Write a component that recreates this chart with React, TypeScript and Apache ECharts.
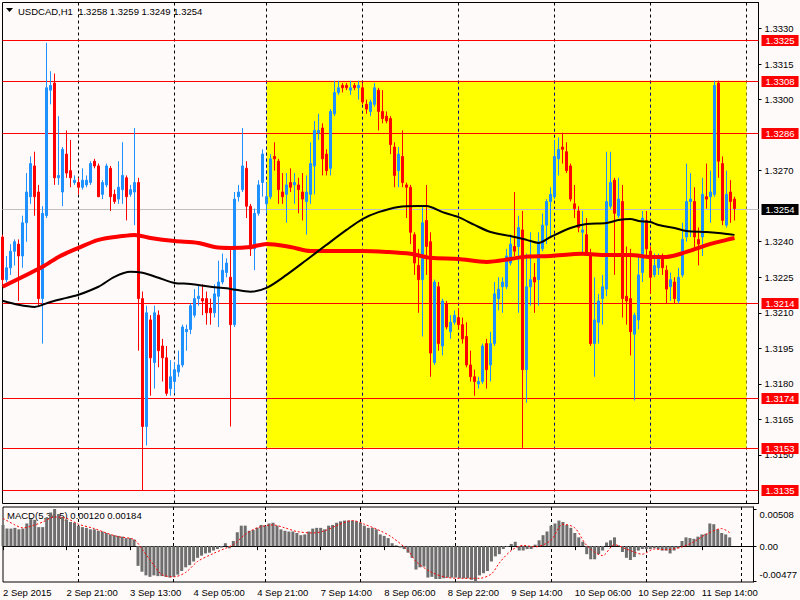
import React, { useEffect, useRef } from "react";
import * as echarts from "echarts";

// ---------- data ----------
const symbolName = "USDCAD,H1";
const year = 2015;
// trading sessions on the time axis: [day, first hour, last hour]
const sessions: [string, number, number][] = [
  ["2 Sep", 5, 23], ["3 Sep", 0, 23], ["4 Sep", 0, 22], ["7 Sep", 0, 23], ["8 Sep", 0, 23],
  ["9 Sep", 0, 23], ["10 Sep", 0, 23], ["11 Sep", 0, 23], ["12 Sep", 0, 3],
];

const opens = [
  1.3242,1.3224,1.3229,1.3236,1.3239,1.3234,1.3248,1.3259,1.3272,1.3261,
  1.3216,1.3251,1.3304,1.3307,1.3267,1.3261,1.3277,1.3270,1.3265,1.3265,
  1.3263,1.3264,1.3265,1.3274,1.3272,1.3260,1.3264,1.3271,1.3260,1.3258,
  1.3262,1.3267,1.3260,1.3261,1.3265,1.3216,1.3162,1.3207,1.3189,1.3209,
  1.3196,1.3191,1.3178,1.3181,1.3185,1.3188,1.3202,1.3203,1.3209,1.3216,
  1.3216,1.3216,1.3212,1.3210,1.3217,1.3223,1.3227,1.3225,1.3205,1.3259,
  1.3262,1.3271,1.3255,1.3237,1.3252,1.3265,1.3256,1.3259,1.3276,1.3274,
  1.3261,1.3260,1.3265,1.3264,1.3264,1.3261,1.3257,1.3260,1.3272,1.3286,
  1.3288,1.3277,1.3271,1.3294,1.3303,1.3306,1.3306,1.3304,1.3306,1.3305,
  1.3305,1.3298,1.3295,1.3298,1.3304,1.3295,1.3293,1.3292,1.3280,1.3270,
  1.3276,1.3264,1.3263,1.3243,1.3230,1.3224,1.3249,1.3240,1.3189,1.3221,
  1.3196,1.3214,1.3202,1.3206,1.3208,1.3205,1.3200,1.3188,1.3183,1.3180,
  1.3181,1.3197,1.3188,1.3197,1.3216,1.3221,1.3221,1.3231,1.3238,1.3238,
  1.3245,1.3186,1.3221,1.3225,1.3224,1.3237,1.3247,1.3257,1.3259,1.3275,
  1.3280,1.3278,1.3272,1.3256,1.3253,1.3244,1.3243,1.3235,1.3197,1.3206,
  1.3216,1.3220,1.3255,1.3266,1.3251,1.3257,1.3217,1.3216,1.3201,1.3207,
  1.3227,1.3249,1.3236,1.3226,1.3229,1.3234,1.3228,1.3221,1.3223,1.3215,
  1.3226,1.3242,1.3257,1.3257,1.3241,1.3242,1.3259,1.3259,1.3260,1.3307,
  1.3273,1.3247,1.3261,1.3258,
];
const closes = [
  1.3224,1.3229,1.3236,1.3240,1.3234,1.3248,1.3261,1.3273,1.3259,1.3216,
  1.3252,1.3305,1.3306,1.3267,1.3268,1.3279,1.3269,1.3267,1.3266,1.3263,
  1.3266,1.3266,1.3273,1.3272,1.3259,1.3265,1.3272,1.3259,1.3257,1.3263,
  1.3268,1.3259,1.3262,1.3265,1.3216,1.3162,1.3210,1.3191,1.3210,1.3194,
  1.3191,1.3176,1.3183,1.3186,1.3188,1.3204,1.3203,1.3213,1.3216,1.3217,
  1.3215,1.3210,1.3210,1.3218,1.3223,1.3228,1.3231,1.3205,1.3258,1.3261,
  1.3272,1.3255,1.3237,1.3252,1.3264,1.3277,1.3259,1.3275,1.3275,1.3262,
  1.3259,1.3264,1.3263,1.3265,1.3262,1.3258,1.3261,1.3273,1.3287,1.3287,
  1.3275,1.3270,1.3295,1.3303,1.3305,1.3305,1.3305,1.3305,1.3305,1.3306,
  1.3299,1.3296,1.3299,1.3305,1.3295,1.3292,1.3291,1.3281,1.3268,1.3277,
  1.3265,1.3263,1.3244,1.3231,1.3224,1.3248,1.3238,1.3193,1.3223,1.3197,
  1.3215,1.3204,1.3206,1.3209,1.3205,1.3199,1.3188,1.3183,1.3181,1.3181,
  1.3196,1.3186,1.3197,1.3218,1.3220,1.3223,1.3234,1.3239,1.3236,1.3246,
  1.3186,1.3221,1.3224,1.3223,1.3240,1.3247,1.3257,1.3260,1.3276,1.3279,
  1.3279,1.3270,1.3258,1.3254,1.3246,1.3245,1.3235,1.3197,1.3207,1.3215,
  1.3221,1.3257,1.3265,1.3252,1.3258,1.3216,1.3215,1.3202,1.3209,1.3226,
  1.3250,1.3237,1.3225,1.3230,1.3234,1.3229,1.3220,1.3224,1.3216,1.3225,
  1.3241,1.3257,1.3258,1.3242,1.3239,1.3260,1.3258,1.3261,1.3306,1.3274,
  1.3249,1.3260,1.3257,1.3254,
];
const lows = [
  1.3222,1.3223,1.3226,1.3230,1.3215,1.3229,1.3240,1.3256,1.3251,1.3213,
  1.3197,1.3250,1.3298,1.3264,1.3264,1.3255,1.3267,1.3263,1.3264,1.3260,
  1.3262,1.3263,1.3264,1.3271,1.3259,1.3258,1.3263,1.3253,1.3256,1.3256,
  1.3256,1.3249,1.3259,1.3247,1.3194,1.3135,1.3154,1.3175,1.3178,1.3187,
  1.3181,1.3175,1.3175,1.3176,1.3183,1.3187,1.3194,1.3201,1.3208,1.3213,
  1.3209,1.3205,1.3205,1.3208,1.3204,1.3222,1.3225,1.3162,1.3204,1.3257,
  1.3261,1.3250,1.3234,1.3228,1.3251,1.3259,1.3252,1.3258,1.3270,1.3256,
  1.3256,1.3248,1.3261,1.3256,1.3252,1.3249,1.3243,1.3256,1.3260,1.3283,
  1.3268,1.3268,1.3268,1.3293,1.3302,1.3303,1.3304,1.3302,1.3304,1.3300,
  1.3298,1.3294,1.3293,1.3297,1.3287,1.3290,1.3290,1.3277,1.3263,1.3263,
  1.3263,1.3250,1.3239,1.3226,1.3210,1.3200,1.3226,1.3183,1.3188,1.3194,
  1.3192,1.3203,1.3199,1.3205,1.3203,1.3197,1.3187,1.3181,1.3175,1.3178,
  1.3180,1.3178,1.3181,1.3196,1.3211,1.3210,1.3220,1.3230,1.3234,1.3210,
  1.3153,1.3172,1.3213,1.3210,1.3213,1.3236,1.3239,1.3242,1.3258,1.3268,
  1.3273,1.3269,1.3257,1.3250,1.3244,1.3235,1.3234,1.3196,1.3183,1.3197,
  1.3205,1.3217,1.3254,1.3226,1.3250,1.3208,1.3205,1.3192,1.3173,1.3203,
  1.3223,1.3234,1.3218,1.3225,1.3226,1.3226,1.3214,1.3215,1.3214,1.3214,
  1.3225,1.3240,1.3242,1.3237,1.3230,1.3234,1.3254,1.3248,1.3259,1.3267,
  1.3247,1.3246,1.3248,1.3249,
];
const highs = [
  1.3243,1.3234,1.3239,1.3241,1.3241,1.3251,1.3269,1.3276,1.3278,1.3264,
  1.3255,1.3324,1.3312,1.3311,1.3293,1.3280,1.3287,1.3283,1.3268,1.3267,
  1.3271,1.3268,1.3274,1.3275,1.3273,1.3266,1.3273,1.3272,1.3262,1.3274,
  1.3282,1.3268,1.3264,1.3288,1.3267,1.3219,1.3213,1.3209,1.3213,1.3211,
  1.3199,1.3196,1.3190,1.3189,1.3194,1.3205,1.3205,1.3214,1.3220,1.3222,
  1.3222,1.3219,1.3216,1.3222,1.3232,1.3235,1.3233,1.3237,1.3261,1.3264,
  1.3288,1.3274,1.3256,1.3254,1.3266,1.3279,1.3265,1.3277,1.3282,1.3275,
  1.3269,1.3269,1.3271,1.3269,1.3267,1.3269,1.3268,1.3282,1.3291,1.3294,
  1.3290,1.3279,1.3296,1.3308,1.3308,1.3307,1.3307,1.3308,1.3307,1.3308,
  1.3307,1.3300,1.3300,1.3307,1.3305,1.3304,1.3295,1.3293,1.3282,1.3280,
  1.3287,1.3265,1.3264,1.3244,1.3237,1.3255,1.3264,1.3244,1.3224,1.3223,
  1.3216,1.3215,1.3209,1.3211,1.3212,1.3208,1.3206,1.3194,1.3186,1.3183,
  1.3197,1.3199,1.3202,1.3223,1.3225,1.3225,1.3237,1.3243,1.3261,1.3251,
  1.3253,1.3235,1.3244,1.3231,1.3244,1.3252,1.3258,1.3263,1.3283,1.3284,
  1.3286,1.3282,1.3273,1.3264,1.3255,1.3253,1.3250,1.3237,1.3225,1.3218,
  1.3226,1.3278,1.3278,1.3267,1.3267,1.3264,1.3238,1.3237,1.3210,1.3235,
  1.3253,1.3253,1.3238,1.3235,1.3235,1.3235,1.3230,1.3227,1.3225,1.3229,
  1.3248,1.3273,1.3269,1.3263,1.3246,1.3267,1.3273,1.3270,1.3308,1.3308,
  1.3276,1.3270,1.3266,1.3259,
];

// moving averages read at bar indices: [bar, value]
const maRed: [number, number][] = [
  [0,1.32210],[10,1.32294],[14,1.32336],[19,1.32374],[24,1.32408],[30,1.32424],[33,1.32429],
  [37,1.32416],[43,1.32403],[49,1.32395],[53,1.32378],[57,1.32374],[62,1.32378],[66,1.32391],
  [72,1.32378],[77,1.32361],[90,1.32361],[96,1.32357],[102,1.32349],[107,1.32332],[114,1.32327],
  [121,1.32315],[127,1.32327],[130,1.32336],[137,1.32340],[145,1.32349],[151,1.32344],[157,1.32344],
  [162,1.32336],[166,1.32336],[171,1.32357],[174,1.32374],[177,1.32391],[181,1.32408],[183,1.32416],
];
const maBlack: [number, number][] = [
  [0,1.32151],[4,1.32134],[8,1.32125],[12,1.32146],[16,1.32163],[19,1.32176],[24,1.32210],
  [28,1.32252],[32,1.32273],[35,1.32269],[39,1.32248],[43,1.32226],[47,1.32222],[52,1.32210],
  [57,1.32201],[62,1.32189],[66,1.32205],[71,1.32260],[76,1.32323],[81,1.32387],[86,1.32450],
  [90,1.32496],[94,1.32525],[99,1.32547],[104,1.32551],[106,1.32551],[110,1.32525],[114,1.32504],
  [118,1.32471],[122,1.32441],[127,1.32424],[131,1.32408],[134,1.32395],[137,1.32420],[142,1.32458],
  [146,1.32475],[151,1.32479],[154,1.32492],[157,1.32496],[159,1.32488],[162,1.32483],[164,1.32471],
  [168,1.32458],[171,1.32445],[176,1.32441],[179,1.32437],[183,1.32429],
];

// MACD(5,34,5)
const macdParams = "5,34,5";
const macdMain = [
  0.0029,0.0024,0.0024,0.0025,0.0023,0.0024,0.0031,0.0037,0.0036,0.0026,
  0.0026,0.0039,0.0046,0.00508,0.0044,0.0040,0.0036,0.0033,0.0032,0.0028,
  0.0026,0.0025,0.0023,0.0023,0.0021,0.0020,0.0018,0.0016,0.0015,0.0014,
  0.0013,0.0011,0.0011,0.0009,-0.0027,-0.0035,-0.0040,-0.0042,-0.0040,-0.0041,
  -0.0041,-0.0042,-0.0043,-0.0042,-0.0039,-0.0034,-0.0029,-0.0026,-0.0021,-0.0016,
  -0.0013,-0.0010,-0.0009,-0.0006,-0.0004,-0.0002,0.0004,-0.0003,0.0007,0.0019,
  0.0028,0.0028,0.0021,0.0022,0.0025,0.0029,0.0028,0.0031,0.0032,0.0028,
  0.0023,0.0021,0.0020,0.0020,0.0018,0.0015,0.0016,0.0020,0.0024,0.0025,
  0.0025,0.0023,0.0028,0.0029,0.0032,0.0034,0.0035,0.0035,0.0035,0.0034,
  0.0032,0.0028,0.0025,0.0025,0.0023,0.0016,0.0014,0.0011,0.0004,0.0001,
  -0.0002,-0.0004,-0.0009,-0.0016,-0.0032,-0.0029,-0.0028,-0.0043,-0.0042,-0.0045,
  -0.0045,-0.0044,-0.0043,-0.0043,-0.0043,-0.0044,-0.0044,-0.0044,-0.0046,-0.00477,
  -0.0040,-0.0037,-0.0034,-0.0021,-0.0014,-0.0011,-0.0004,-0.0001,0.0003,0.0006,
  -0.0006,-0.0006,-0.0004,-0.0004,0.0002,0.0008,0.0015,0.0020,0.0028,0.0031,
  0.0035,0.0033,0.0029,0.0025,0.0018,0.0012,0.0006,-0.0011,-0.0018,-0.0018,
  -0.0011,-0.0006,0.0005,0.0008,0.0012,0.0001,-0.0008,-0.0016,-0.0019,-0.0015,
  -0.0006,-0.0004,-0.0004,-0.0004,-0.0003,-0.0004,-0.0006,-0.0006,-0.0010,-0.0006,
  -0.0003,0.0007,0.0012,0.0011,0.0010,0.0013,0.0016,0.0017,0.0031,0.0030,
  0.0023,0.0018,0.0016,0.0012,
];
const macdSignal: [number, number][] = [
  [0,0.0038],[3,0.0029],[5,0.0025],[8,0.0029],[10,0.0033],[13,0.0040],[16,0.0038],[19,0.0030],
  [23,0.0024],[26,0.0018],[29,0.0013],[33,0.0009],[35,-0.0004],[38,-0.0026],[40,-0.0039],
  [43,-0.0042],[46,-0.0036],[49,-0.0021],[53,-0.0010],[56,-0.0003],[58,0.0002],[61,0.0016],
  [64,0.0025],[68,0.0029],[71,0.0025],[74,0.0020],[78,0.0018],[81,0.0021],[84,0.0028],
  [88,0.0035],[91,0.0030],[95,0.0021],[98,0.0012],[102,-0.0006],[104,-0.0021],[108,-0.0036],
  [112,-0.0043],[116,-0.0044],[120,-0.0044],[123,-0.0038],[125,-0.0023],[128,-0.0006],
  [131,0.0001],[134,-0.0001],[138,0.0008],[141,0.0030],[144,0.0025],[147,0.0001],[151,-0.0013],
  [154,0.0002],[157,-0.0004],[161,-0.0011],[164,-0.0004],[167,-0.0005],[171,-0.0001],
  [174,0.0006],[177,0.0016],[181,0.0024],[183,0.00184],
];

// horizontal levels and the rectangle zone
const levels = [1.3325, 1.3308, 1.3286, 1.3214, 1.3174, 1.3153, 1.3135];
const zoneFrom = "7 Sep 00:00";
const zoneTo = "12 Sep 00:00";
const zoneHigh = 1.3308;
const zoneLow = 1.3153;

// price scale labels (those hidden under the level tags are left out)
const priceLabels = [1.3150,1.3165,1.3180,1.3195,1.3210,1.3225,1.3240,1.3270,1.3300,1.3315,1.3330];
const macdTicks = [-0.00477, 0, 0.00508];

// ---------- chart ----------
const FONT = '"Liberation Sans", Arial, sans-serif';
const FS = 9.5;

function buildOption() {
  const categories: string[] = [];
  sessions.forEach(([day, from, to]) => {
    for (let h = from; h <= to; h++) categories.push(`${day} ${String(h).padStart(2, "0")}:00`);
  });
  const N = categories.length;
  const isMidnight = (i: number) => categories[i] !== undefined && categories[i].endsWith(" 00:00");
  const isLabel = (i: number) => i % 16 === 0;

  const candles = opens.map((o, i) => [o, closes[i], lows[i], highs[i]]);
  const last = candles.length - 1;
  const bid = closes[last];
  const midnights = categories.map((_, i) => i).filter(isMidnight);
  const zStart = categories.indexOf(zoneFrom);
  const zEnd = categories.indexOf(zoneTo);

  const levelValues = [...levels, bid];

  const splitLine = { show: true, interval: (i: number) => isMidnight(i), lineStyle: { color: "#000", type: [3, 3], width: 1 } };

  const title = `${symbolName}  ${opens[last].toFixed(4)} ${highs[last].toFixed(4)} ${lows[last].toFixed(4)} ${closes[last].toFixed(4)}`;
  const macdTitle = `MACD(${macdParams}) ${macdMain[macdMain.length - 1].toFixed(5)} ${macdSignal[macdSignal.length - 1][1].toFixed(5)}`;

  return {
    animation: false,
    backgroundColor: "#FFFAFA",
    textStyle: { fontFamily: FONT, fontSize: FS, color: "#000" },
    grid: [
      { left: 2.5, right: 41.5, top: 2.5, height: 501, show: true, borderColor: "#000", borderWidth: 1, backgroundColor: "transparent" },
      { left: 2.5, right: 41.5, top: 507, height: 75, show: true, borderColor: "#000", borderWidth: 1, backgroundColor: "transparent" },
    ],
    xAxis: [
      {
        type: "category", gridIndex: 0, data: categories, boundaryGap: false,
        axisLine: { show: false }, axisTick: { show: false }, axisLabel: { show: false }, splitLine,
      },
      {
        type: "category", gridIndex: 1, data: categories, boundaryGap: false,
        axisLine: { show: true, lineStyle: { color: "#000" } },
        axisTick: { show: true, interval: (i: number) => isLabel(i), length: 4, lineStyle: { color: "#000" } },
        axisLabel: {
          show: true, interval: (i: number) => isLabel(i), align: "left", margin: 5,
          color: "#000", fontSize: FS, fontFamily: FONT,
          formatter: (v: string, i: number) => (i === 0 ? `${v.split(" ").slice(0, 2).join(" ")} ${year}` : v),
        },
        splitLine,
      },
    ],
    yAxis: [
      {
        type: "value", gridIndex: 0, position: "right", min: 1.31295, max: 1.3341,
        axisLine: { show: true, lineStyle: { color: "#000" } },
        axisTick: { show: true, length: 3, customValues: priceLabels, lineStyle: { color: "#000" } },
        axisLabel: { customValues: priceLabels, formatter: (v: number) => v.toFixed(4), margin: 6, color: "#000", fontSize: FS, fontFamily: FONT },
        splitLine: { show: false },
      },
      {
        type: "value", gridIndex: 1, position: "right", min: -0.004907, max: 0.005354,
        axisLine: { show: true, lineStyle: { color: "#000" } },
        axisTick: { show: true, length: 3, customValues: macdTicks, lineStyle: { color: "#000" } },
        axisLabel: {
          customValues: macdTicks, margin: 6, color: "#000", fontSize: FS, fontFamily: FONT,
          formatter: (v: number) => (Math.abs(v) < 1e-9 ? "0.00" : v > 0 ? `{hi|${v.toFixed(5)}}` : `{lo|${v.toFixed(5)}}`),
          rich: {
            hi: { padding: [10, 0, 0, 0], fontSize: FS, fontFamily: FONT, color: "#000" },
            lo: { padding: [0, 0, 12, 0], fontSize: FS, fontFamily: FONT, color: "#000" },
          },
        },
        splitLine: { show: false },
      },
    ],
    series: [
      {
        type: "custom", name: "zone", xAxisIndex: 0, yAxisIndex: 0, z: 1, silent: true,
        data: [[zStart, zEnd, zoneHigh, zoneLow]],
        encode: { x: [0, 1], y: [2, 3] },
        renderItem: (_p: any, api: any) => {
          const s = api.value(0), e = api.value(1);
          const a = api.coord([s, api.value(2)]);
          const b = api.coord([e, api.value(3)]);
          const children: any[] = [
            { type: "rect", shape: { x: a[0], y: a[1], width: b[0] - a[0], height: b[1] - a[1] }, style: { fill: "#FFFF00" } },
          ];
          midnights.filter((m) => m >= s && m < e).forEach((m) => {
            const x = Math.floor(api.coord([m, 0])[0]) + 0.5;
            children.push({ type: "line", shape: { x1: x, y1: a[1], x2: x, y2: b[1] }, style: { stroke: "#000080", lineWidth: 1, lineDash: [3, 3] } });
          });
          return { type: "group", children };
        },
      },
      {
        type: "custom", name: "levels", xAxisIndex: 0, yAxisIndex: 0, z: 1.5, silent: true,
        data: levelValues.map((v) => [0, v]),
        encode: { x: 0, y: 1 },
        renderItem: (p: any, api: any) => {
          const v = api.value(1);
          const isBid = p.dataIndex === levelValues.length - 1;
          const a = api.coord([0, v]);
          const b = api.coord([N - 1, v]);
          const y = Math.round(a[1]) + 0.5;
          return {
            type: "group",
            children: [
              { type: "line", shape: { x1: a[0], y1: y, x2: b[0], y2: y }, style: { stroke: isBid ? "#C0C0C0" : "#FF0000", lineWidth: 1 } },
              {
                type: "text", x: b[0] + 3, y: y,
                style: {
                  text: v.toFixed(4), fill: "#FFFFFF", backgroundColor: isBid ? "#000000" : "#FF0000",
                  padding: [1, 4, 0, 4], fontSize: FS, fontFamily: FONT, verticalAlign: "middle", align: "left",
                },
              },
            ],
          };
        },
      },
      {
        type: "candlestick", name: "price", xAxisIndex: 0, yAxisIndex: 0, z: 2, data: candles, barWidth: 2,
        itemStyle: { color: "#1E90FF", color0: "#FF0000", borderColor: "#1E90FF", borderColor0: "#FF0000", borderColorDoji: "#1E90FF", borderWidth: 1 },
      },
      {
        type: "line", name: "maRed", xAxisIndex: 0, yAxisIndex: 0, z: 3, data: maRed, symbol: "none", smooth: 0.3,
        lineStyle: { color: "#FF0000", width: 4 },
      },
      {
        type: "line", name: "maBlack", xAxisIndex: 0, yAxisIndex: 0, z: 3, data: maBlack, symbol: "none", smooth: 0.3,
        lineStyle: { color: "#000000", width: 2 },
      },
      {
        type: "bar", name: "macd", xAxisIndex: 1, yAxisIndex: 1, z: 2, data: macdMain, barWidth: 3,
        itemStyle: { color: "#6E6E6E" },
      },
      {
        type: "line", name: "signal", xAxisIndex: 1, yAxisIndex: 1, z: 3, data: macdSignal, symbol: "none", smooth: 0.3,
        lineStyle: { color: "#FF0000", width: 1, type: [2, 2] },
      },
    ],
    graphic: [
      { type: "polygon", shape: { points: [[6, 8], [13, 8], [9.5, 12]] }, style: { fill: "#000" } },
      { type: "text", x: 18, y: 11, style: { text: title, fill: "#000", fontSize: FS, fontFamily: FONT, verticalAlign: "middle" } },
      { type: "text", x: 7, y: 515, style: { text: macdTitle, fill: "#000", fontSize: FS, fontFamily: FONT, verticalAlign: "middle" } },
    ],
  };
}

export default function App() {
  const ref = useRef<HTMLDivElement>(null);
  useEffect(() => {
    if (!ref.current) return;
    const chart = echarts.init(ref.current, undefined, { renderer: "svg" });
    chart.setOption(buildOption() as any);
    return () => chart.dispose();
  }, []);
  return (
    <div
      ref={ref}
      style={{ position: "fixed", left: 0, top: 0, width: 800, height: 600, background: "#FFFAFA" }}
    />
  );
}
